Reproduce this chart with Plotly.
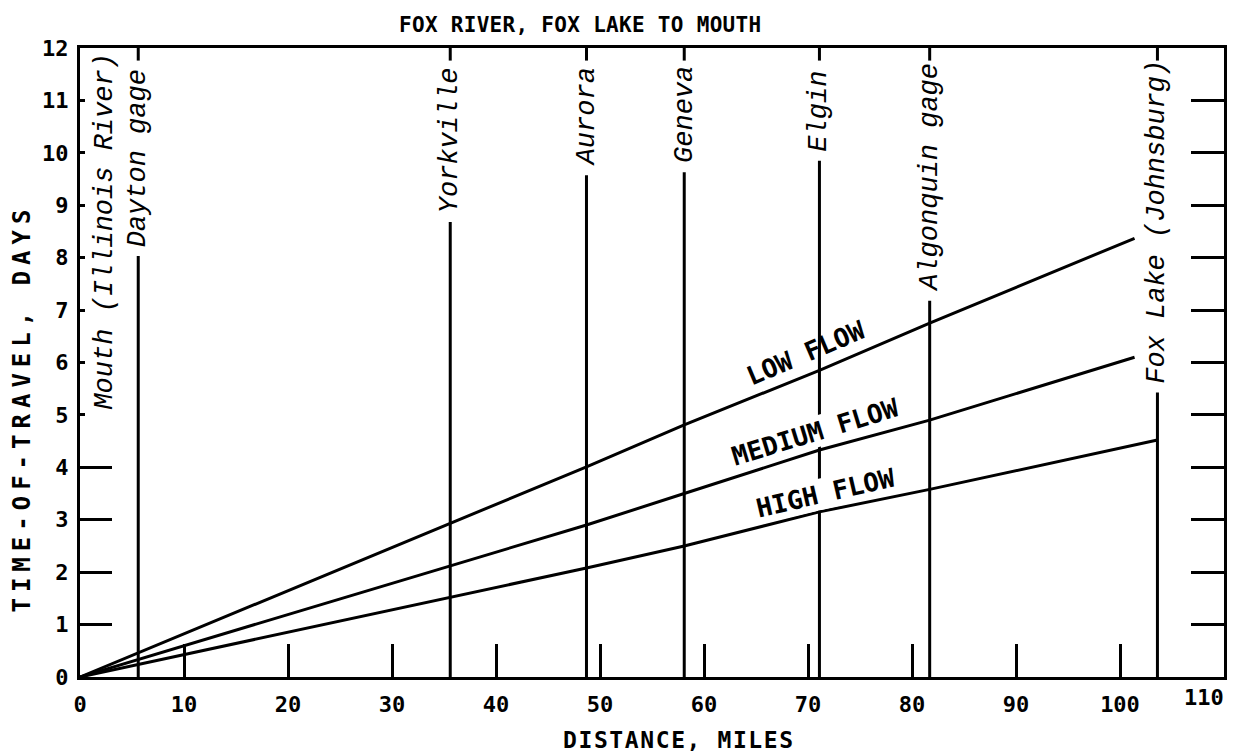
import plotly.graph_objects as go

# Axis ticks
distance_ticks = [0, 10, 20, 30, 40, 50, 60, 70, 80, 90, 100]
day_ticks = [0, 1, 2, 3, 4, 5, 6, 7, 8, 9, 10, 11, 12]
long_left_ticks = [1, 2, 3, 4]
right_ticks = [1, 2, 3, 4, 5, 6, 7, 8, 9, 10, 11]

# Time of travel (days) at the gaging points, for three flow conditions
low_miles = [0, 35.6, 48.7, 58.1, 71.1, 81.7, 101.4]
low_days = [0, 2.94, 4.01, 4.81, 5.85, 6.75, 8.37]

medium_miles = [0, 35.6, 48.7, 58.1, 71.1, 81.7, 101.4]
medium_days = [0, 2.13, 2.90, 3.50, 4.33, 4.90, 6.10]

high_miles = [0, 35.6, 48.7, 58.1, 71.1, 81.7, 103.6]
high_days = [0, 1.52, 2.08, 2.50, 3.15, 3.58, 4.52]

# Stations along the river: name, river mile, height of the marker line (days)
station_names = ["Mouth (Illinois River)", "Dayton gage", "Yorkville", "Aurora",
                 "Geneva", "Elgin", "Algonquin gage", "Fox Lake (Johnsburg)"]
station_miles = [0, 5.6, 35.6, 48.7, 58.1, 71.1, 81.7, 103.6]
station_tops = [4.93, 8.03, 8.68, 9.57, 9.63, 9.85, 7.18, 5.43]

flow_labels = ["LOW FLOW", "MEDIUM FLOW", "HIGH FLOW"]
flow_label_miles = [69.8, 70.7, 71.7]
flow_label_days = [6.18, 4.67, 3.51]
flow_label_angles = [-23, -17, -13]

X_MAX, Y_MAX = 110, 12
INK = "black"
LETTER = "DejaVu Sans Mono"
SCRIPT = "Liberation Mono"


def spaced(text, px):
    return f'<span style="letter-spacing:{px}px">{text}</span>'


fig = go.Figure()

# vertical station markers: a line up from the axis and a short stub from the top
sx, sy = [], []
for mile, top in zip(station_miles, station_tops):
    if mile > 0:
        sx += [mile, mile, None, mile, mile, None]
        sy += [0, top, None, Y_MAX, Y_MAX - 0.24, None]
fig.add_trace(go.Scatter(x=sx, y=sy, mode="lines", line=dict(color=INK, width=3),
                         hoverinfo="skip", showlegend=False))

for miles, days in [(low_miles, low_days), (medium_miles, medium_days), (high_miles, high_days)]:
    fig.add_trace(go.Scatter(x=miles, y=days, mode="lines",
                             line=dict(color=INK, width=3),
                             hoverinfo="skip", showlegend=False))

# empty traces that carry the extra tick axes
for ax in ("y2", "y3"):
    fig.add_trace(go.Scatter(x=[None], y=[None], yaxis=ax, mode="lines",
                             hoverinfo="skip", showlegend=False))

annotations = []
for name, mile, top in zip(station_names, station_miles, station_tops):
    annotations.append(dict(
        x=mile, y=top, xref="x", yref="y", text=name, showarrow=False,
        textangle=-90, xanchor="left" if mile == 0 else "center", yanchor="bottom",
        xshift=8 if mile == 0 else 0, yshift=7,
        font=dict(family=SCRIPT, size=27, color=INK, style="italic")))

for text, mile, day, ang in zip(flow_labels, flow_label_miles, flow_label_days, flow_label_angles):
    annotations.append(dict(
        x=mile, y=day, xref="x", yref="y", text=text, showarrow=False,
        textangle=ang, xanchor="center", yanchor="middle",
        bgcolor="white" if text != "LOW FLOW" else None, borderpad=0,
        font=dict(family=LETTER, size=26, color=INK, weight="bold")))

# last distance label sits flush with the right frame
annotations.append(dict(x=X_MAX, y=0, xref="x", yref="y", text="110", showarrow=False,
                        xanchor="right", yanchor="top", xshift=2, yshift=-6,
                        font=dict(family=LETTER, size=22, color=INK, weight="bold")))

annotations.append(dict(x=0.437, y=1.037, xref="paper", yref="paper",
                        text=spaced("FOX RIVER, FOX LAKE TO MOUTH", 0.3), showarrow=False,
                        xanchor="center", yanchor="middle",
                        font=dict(family=LETTER, size=21, color=INK, weight="bold")))
annotations.append(dict(x=0.524, y=-0.1, xref="paper", yref="paper",
                        text=spaced("DISTANCE, MILES", 1.6), showarrow=False,
                        xanchor="center", yanchor="middle",
                        font=dict(family=LETTER, size=23, color=INK, weight="bold")))
annotations.append(dict(x=-0.0506, y=0.427, xref="paper", yref="paper",
                        text=spaced("TIME-OF-TRAVEL, DAYS", 6), showarrow=False,
                        textangle=-90, xanchor="center", yanchor="middle",
                        font=dict(family=LETTER, size=24, color=INK, weight="bold")))

fig.update_layout(
    width=1239, height=756,
    margin=dict(l=80, r=13, t=48, b=79),
    paper_bgcolor="white", plot_bgcolor="white",
    showlegend=False,
    annotations=annotations,
    xaxis=dict(range=[0, X_MAX], tickvals=distance_ticks, ticktext=[str(v) for v in distance_ticks],
               ticks="inside", ticklen=33, tickwidth=3, tickcolor=INK,
               showline=True, linewidth=3, linecolor=INK, mirror=True,
               showgrid=False, zeroline=False, ticklabelstandoff=6,
               tickfont=dict(family=LETTER, size=22, color=INK, weight="bold")),
    yaxis=dict(range=[0, Y_MAX], tickvals=day_ticks, ticktext=[str(v) for v in day_ticks],
               ticks="inside", ticklen=5, tickwidth=3, tickcolor=INK,
               showline=True, linewidth=3, linecolor=INK, mirror=True,
               showgrid=False, zeroline=False, ticklabelstandoff=4,
               tickfont=dict(family=LETTER, size=22, color=INK, weight="bold")),
    yaxis2=dict(range=[0, Y_MAX], overlaying="y", side="right", tickvals=right_ticks,
                ticks="inside", ticklen=33, tickwidth=3, tickcolor=INK,
                showticklabels=False, showline=False, showgrid=False, zeroline=False),
    yaxis3=dict(range=[0, Y_MAX], overlaying="y", side="left", tickvals=long_left_ticks,
                ticks="inside", ticklen=32, tickwidth=3, tickcolor=INK,
                showticklabels=False, showline=False, showgrid=False, zeroline=False),
)

fig.write_html("out.html")
